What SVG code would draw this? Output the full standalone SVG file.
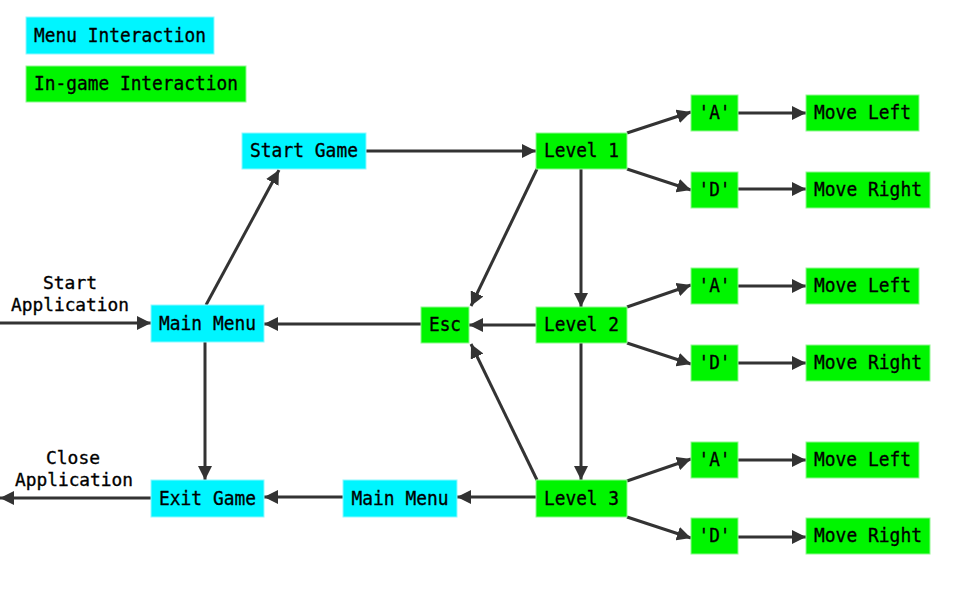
<svg xmlns="http://www.w3.org/2000/svg" width="957" height="591" viewBox="0 0 957 591">
  <style>
    .menu { fill: #00f5ff; stroke: #8ff8ff; stroke-width: 1; }
    .game { fill: #00f500; stroke: #8ff88f; stroke-width: 1; }
    text { font-family: "DejaVu Sans Mono", "Liberation Mono", monospace; font-size: 20px; fill: #000; text-anchor: middle; dominant-baseline: central; stroke: #000; stroke-width: 0.35; }
    .lbl { dominant-baseline: auto; font-size: 18px; }
    .edge { stroke: #333; stroke-width: 3; fill: none; marker-end: url(#arrow); }
  </style>
  <defs>
    <marker id="arrow" markerUnits="userSpaceOnUse" markerWidth="16" markerHeight="14" refX="14" refY="7" orient="auto">
      <path d="M0,0 L14,7 L0,14 Z" fill="#333"/>
    </marker>
  </defs>
  <rect width="957" height="591" fill="#fff"/>

  <!-- legend -->
  <g id="legend-menu"><rect class="menu" x="26" y="17" width="188" height="37"/><text x="120" y="34.5" textLength="172" lengthAdjust="spacingAndGlyphs">Menu Interaction</text></g>
  <g id="legend-game"><rect class="game" x="26" y="66" width="220" height="36"/><text x="136" y="83" textLength="204" lengthAdjust="spacingAndGlyphs">In-game Interaction</text></g>

  <!-- connectors -->
  <g id="connectors">
    <line class="edge" x1="0" y1="323" x2="151" y2="323"/>
    <line class="edge" x1="206" y1="305" x2="279" y2="170"/>
    <line class="edge" x1="366" y1="151" x2="536" y2="151"/>
    <line class="edge" x1="537" y1="169" x2="471" y2="306"/>
    <line class="edge" x1="581" y1="169" x2="581" y2="307"/>
    <line class="edge" x1="627" y1="133" x2="691" y2="112"/>
    <line class="edge" x1="627" y1="169" x2="691" y2="190"/>
    <line class="edge" x1="738" y1="113" x2="806" y2="113"/>
    <line class="edge" x1="738" y1="189" x2="806" y2="189"/>
    <line class="edge" x1="536" y1="325" x2="469" y2="325"/>
    <line class="edge" x1="421" y1="324" x2="264" y2="324"/>
    <line class="edge" x1="627" y1="307" x2="691" y2="285"/>
    <line class="edge" x1="627" y1="343" x2="691" y2="364"/>
    <line class="edge" x1="738" y1="286" x2="806" y2="286"/>
    <line class="edge" x1="738" y1="363" x2="806" y2="363"/>
    <line class="edge" x1="581" y1="343" x2="581" y2="480"/>
    <line class="edge" x1="537" y1="480" x2="471" y2="344"/>
    <line class="edge" x1="627" y1="481" x2="691" y2="459"/>
    <line class="edge" x1="627" y1="517" x2="691" y2="538"/>
    <line class="edge" x1="738" y1="460" x2="806" y2="460"/>
    <line class="edge" x1="738" y1="537" x2="806" y2="537"/>
    <line class="edge" x1="536" y1="497" x2="457" y2="497"/>
    <line class="edge" x1="343" y1="497" x2="264" y2="497"/>
    <line class="edge" x1="205" y1="342" x2="205" y2="480"/>
    <line class="edge" x1="151" y1="498" x2="0" y2="498"/>
    <text class="lbl" x="70" y="289" textLength="54" lengthAdjust="spacingAndGlyphs">Start</text>
    <text class="lbl" x="70" y="310.5" textLength="118" lengthAdjust="spacingAndGlyphs">Application</text>
    <text class="lbl" x="73" y="464" textLength="54" lengthAdjust="spacingAndGlyphs">Close</text>
    <text class="lbl" x="74" y="485.5" textLength="118" lengthAdjust="spacingAndGlyphs">Application</text>
  </g>

  <!-- menu nodes -->
  <g id="main-menu"><rect class="menu" x="151" y="305" width="113" height="37"/><text x="207.5" y="322.5" textLength="97" lengthAdjust="spacingAndGlyphs">Main Menu</text></g>
  <g id="start-game"><rect class="menu" x="242" y="133" width="124" height="36"/><text x="304" y="150" textLength="108" lengthAdjust="spacingAndGlyphs">Start Game</text></g>
  <g id="exit-game"><rect class="menu" x="151" y="480" width="113" height="37"/><text x="207.5" y="497.5" textLength="97" lengthAdjust="spacingAndGlyphs">Exit Game</text></g>
  <g id="main-menu-2"><rect class="menu" x="343" y="480" width="114" height="37"/><text x="400" y="497.5" textLength="97" lengthAdjust="spacingAndGlyphs">Main Menu</text></g>

  <!-- in-game nodes -->
  <g id="esc"><rect class="game" x="421" y="307" width="48" height="36"/><text x="445" y="324" textLength="32" lengthAdjust="spacingAndGlyphs">Esc</text></g>
  <g id="level-1"><rect class="game" x="536" y="133" width="91" height="36"/><text x="581.5" y="150" textLength="75" lengthAdjust="spacingAndGlyphs">Level 1</text></g>
  <g id="level-2"><rect class="game" x="536" y="307" width="91" height="36"/><text x="581.5" y="324" textLength="75" lengthAdjust="spacingAndGlyphs">Level 2</text></g>
  <g id="level-3"><rect class="game" x="536" y="480" width="91" height="37"/><text x="581.5" y="497.5" textLength="75" lengthAdjust="spacingAndGlyphs">Level 3</text></g>

  <g id="key-a-1"><rect class="game" x="691" y="95" width="47" height="36"/><text x="714.5" y="112" textLength="32" lengthAdjust="spacingAndGlyphs">'A'</text></g>
  <g id="key-d-1"><rect class="game" x="691" y="172" width="47" height="36"/><text x="714.5" y="189" textLength="32" lengthAdjust="spacingAndGlyphs">'D'</text></g>
  <g id="left-1"><rect class="game" x="806" y="95" width="113" height="36"/><text x="862.5" y="112" textLength="97" lengthAdjust="spacingAndGlyphs">Move Left</text></g>
  <g id="right-1"><rect class="game" x="806" y="172" width="124" height="36"/><text x="868" y="189" textLength="108" lengthAdjust="spacingAndGlyphs">Move Right</text></g>

  <g id="key-a-2"><rect class="game" x="691" y="268" width="47" height="36"/><text x="714.5" y="285" textLength="32" lengthAdjust="spacingAndGlyphs">'A'</text></g>
  <g id="key-d-2"><rect class="game" x="691" y="345" width="47" height="36"/><text x="714.5" y="362" textLength="32" lengthAdjust="spacingAndGlyphs">'D'</text></g>
  <g id="left-2"><rect class="game" x="806" y="268" width="113" height="36"/><text x="862.5" y="285" textLength="97" lengthAdjust="spacingAndGlyphs">Move Left</text></g>
  <g id="right-2"><rect class="game" x="806" y="345" width="124" height="36"/><text x="868" y="362" textLength="108" lengthAdjust="spacingAndGlyphs">Move Right</text></g>

  <g id="key-a-3"><rect class="game" x="691" y="442" width="47" height="36"/><text x="714.5" y="459" textLength="32" lengthAdjust="spacingAndGlyphs">'A'</text></g>
  <g id="key-d-3"><rect class="game" x="691" y="518" width="47" height="36"/><text x="714.5" y="535" textLength="32" lengthAdjust="spacingAndGlyphs">'D'</text></g>
  <g id="left-3"><rect class="game" x="806" y="442" width="113" height="36"/><text x="862.5" y="459" textLength="97" lengthAdjust="spacingAndGlyphs">Move Left</text></g>
  <g id="right-3"><rect class="game" x="806" y="518" width="124" height="36"/><text x="868" y="535" textLength="108" lengthAdjust="spacingAndGlyphs">Move Right</text></g>
</svg>
